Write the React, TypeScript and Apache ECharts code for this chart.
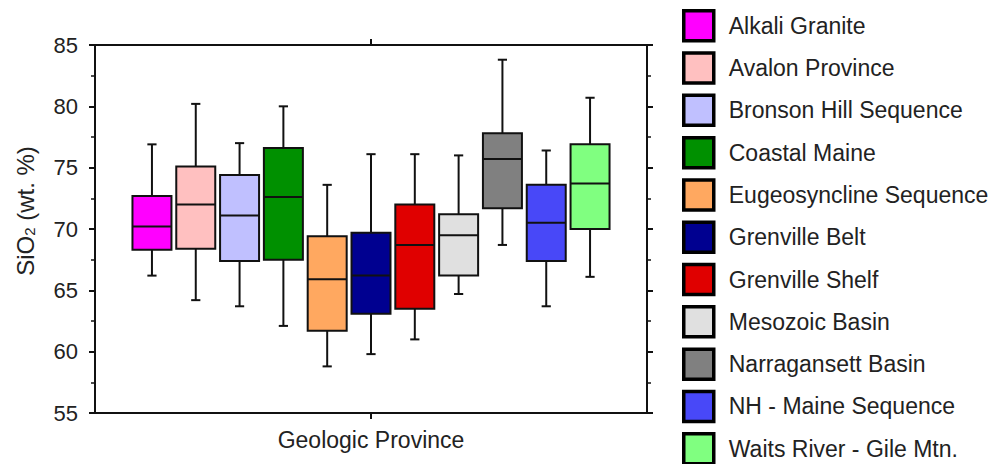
import React, { useEffect, useRef } from 'react';
import * as echarts from 'echarts';

const categories = [
  'Alkali Granite',
  'Avalon Province',
  'Bronson Hill Sequence',
  'Coastal Maine',
  'Eugeosyncline Sequence',
  'Grenville Belt',
  'Grenville Shelf',
  'Mesozoic Basin',
  'Narragansett Basin',
  'NH - Maine Sequence',
  'Waits River - Gile Mtn.',
];
const colors = [
  '#FF00FF', '#FFC0C0', '#C0C0FF', '#009000', '#FFA860', '#000090',
  '#E00000', '#E0E0E0', '#808080', '#4848F8', '#80FF80',
];
const whiskerLow = [66.2, 64.2, 63.7, 62.1, 58.8, 59.8, 61.0, 64.7, 68.7, 63.7, 66.1];
const q1 = [68.3, 68.4, 67.4, 67.5, 61.7, 63.1, 63.5, 66.2, 71.7, 67.4, 70.0];
const median = [70.2, 72.0, 71.1, 72.6, 65.9, 66.2, 68.7, 69.5, 75.7, 70.5, 73.7];
const q3 = [72.7, 75.1, 74.4, 76.6, 69.4, 69.7, 72.0, 71.2, 77.8, 73.6, 76.9];
const whiskerHigh = [76.9, 80.2, 77.0, 80.0, 73.6, 76.1, 76.1, 76.0, 83.8, 76.4, 80.7];

const yMin = 55;
const yMax = 85;
const yInterval = 5;
const xAxisTitle = 'Geologic Province';
const yAxisTitle = 'SiO{sub|2} (wt. %)';

const FONT = '"Liberation Sans", Arial, sans-serif';
const INK = '#111';

export default function App() {
  const ref = useRef<HTMLDivElement>(null);

  useEffect(() => {
    if (!ref.current) return;
    const chart = echarts.init(ref.current, null, { renderer: 'svg' });
    const center = (categories.length - 1) / 2;

    const renderItem = (params: any, api: any) => {
      const x = api.value(0);
      const low = api.coord([x, api.value(1)]);
      const lo = api.coord([x, api.value(2)]);
      const med = api.coord([x, api.value(3)]);
      const hi = api.coord([x, api.value(4)]);
      const high = api.coord([x, api.value(5)]);
      const halfW = api.size([0.89, 0])[0] / 2;
      const capW = api.size([0.21, 0])[0] / 2;
      const cx = med[0];
      const lineStyle = { stroke: INK, lineWidth: 2 };
      return {
        type: 'group',
        children: [
          { type: 'line', shape: { x1: cx, y1: high[1], x2: cx, y2: hi[1] }, style: lineStyle },
          { type: 'line', shape: { x1: cx, y1: lo[1], x2: cx, y2: low[1] }, style: lineStyle },
          { type: 'line', shape: { x1: cx - capW, y1: high[1], x2: cx + capW, y2: high[1] }, style: lineStyle },
          { type: 'line', shape: { x1: cx - capW, y1: low[1], x2: cx + capW, y2: low[1] }, style: lineStyle },
          {
            type: 'rect',
            shape: { x: cx - halfW, y: hi[1], width: halfW * 2, height: lo[1] - hi[1] },
            style: { fill: api.visual('color'), stroke: INK, lineWidth: 2 },
          },
          { type: 'line', shape: { x1: cx - halfW, y1: med[1], x2: cx + halfW, y2: med[1] }, style: lineStyle },
        ],
      };
    };

    const series = categories.map((name, i) => ({
      name,
      type: 'custom',
      xAxisIndex: 2,
      yAxisIndex: 0,
      itemStyle: { color: colors[i] },
      renderItem,
      encode: { x: 0, y: [1, 2, 3, 4, 5] },
      data: [[i - center, whiskerLow[i], q1[i], median[i], q3[i], whiskerHigh[i]]],
    }));

    const catAxisBase = {
      type: 'category',
      data: [xAxisTitle],
      axisLine: { show: true, onZero: false, lineStyle: { color: INK, width: 2 } },
      axisTick: { show: true, alignWithLabel: true, length: 6, lineStyle: { color: INK, width: 2 } },
      splitLine: { show: false },
    };

    const valAxisBase = {
      type: 'value',
      min: yMin,
      max: yMax,
      interval: yInterval,
      axisLine: { show: true, onZero: false, lineStyle: { color: INK, width: 2 } },
      axisTick: { show: true, inside: false, length: 6, lineStyle: { color: INK, width: 2 } },
      minorTick: { show: true, splitNumber: 2, length: 4, lineStyle: { color: INK, width: 1.5 } },
      splitLine: { show: false },
    };

    chart.setOption({
      animation: false,
      backgroundColor: '#fff',
      grid: { left: 95, right: 354, top: 45, bottom: 51, containLabel: false },
      xAxis: [
        {
          ...catAxisBase,
          position: 'bottom',
          axisLabel: { fontSize: 23, color: '#222', fontFamily: FONT, margin: 15 },
        },
        {
          ...catAxisBase,
          position: 'top',
          axisLabel: { show: false },
        },
        { type: 'value', show: false, min: -6.3, max: 6.3, axisLine: { onZero: false } },
      ],
      yAxis: [
        {
          ...valAxisBase,
          position: 'left',
          axisLabel: { fontSize: 22, color: '#222', fontFamily: FONT, margin: 17 },
        },
        {
          ...valAxisBase,
          position: 'right',
          axisLabel: { show: false },
        },
      ],
      legend: {
        orient: 'vertical',
        left: 682,
        top: 9,
        padding: 0,
        height: 700,
        itemWidth: 30,
        itemHeight: 30,
        itemGap: 8.8,
        icon: 'rect',
        itemStyle: { borderColor: '#000', borderWidth: 3.5 },
        textStyle: { fontSize: 23, color: '#222', fontFamily: FONT, padding: [0, 0, 0, 10] },
        data: categories,
        selectedMode: false,
      },
      graphic: [
        {
          type: 'text',
          x: 25,
          y: 211,
          rotation: Math.PI / 2,
          style: {
            text: yAxisTitle,
            fontSize: 24,
            fontFamily: FONT,
            fill: '#222',
            align: 'center',
            verticalAlign: 'middle',
            rich: {
              sub: { fontSize: 15, fontFamily: FONT, fill: '#222', verticalAlign: 'bottom', lineHeight: 14 },
            },
          },
        },
      ],
      series,
    });

    return () => chart.dispose();
  }, []);

  return (
    <div
      ref={ref}
      style={{ position: 'fixed', left: 0, top: 0, width: 1001, height: 464, background: '#fff' }}
    />
  );
}
